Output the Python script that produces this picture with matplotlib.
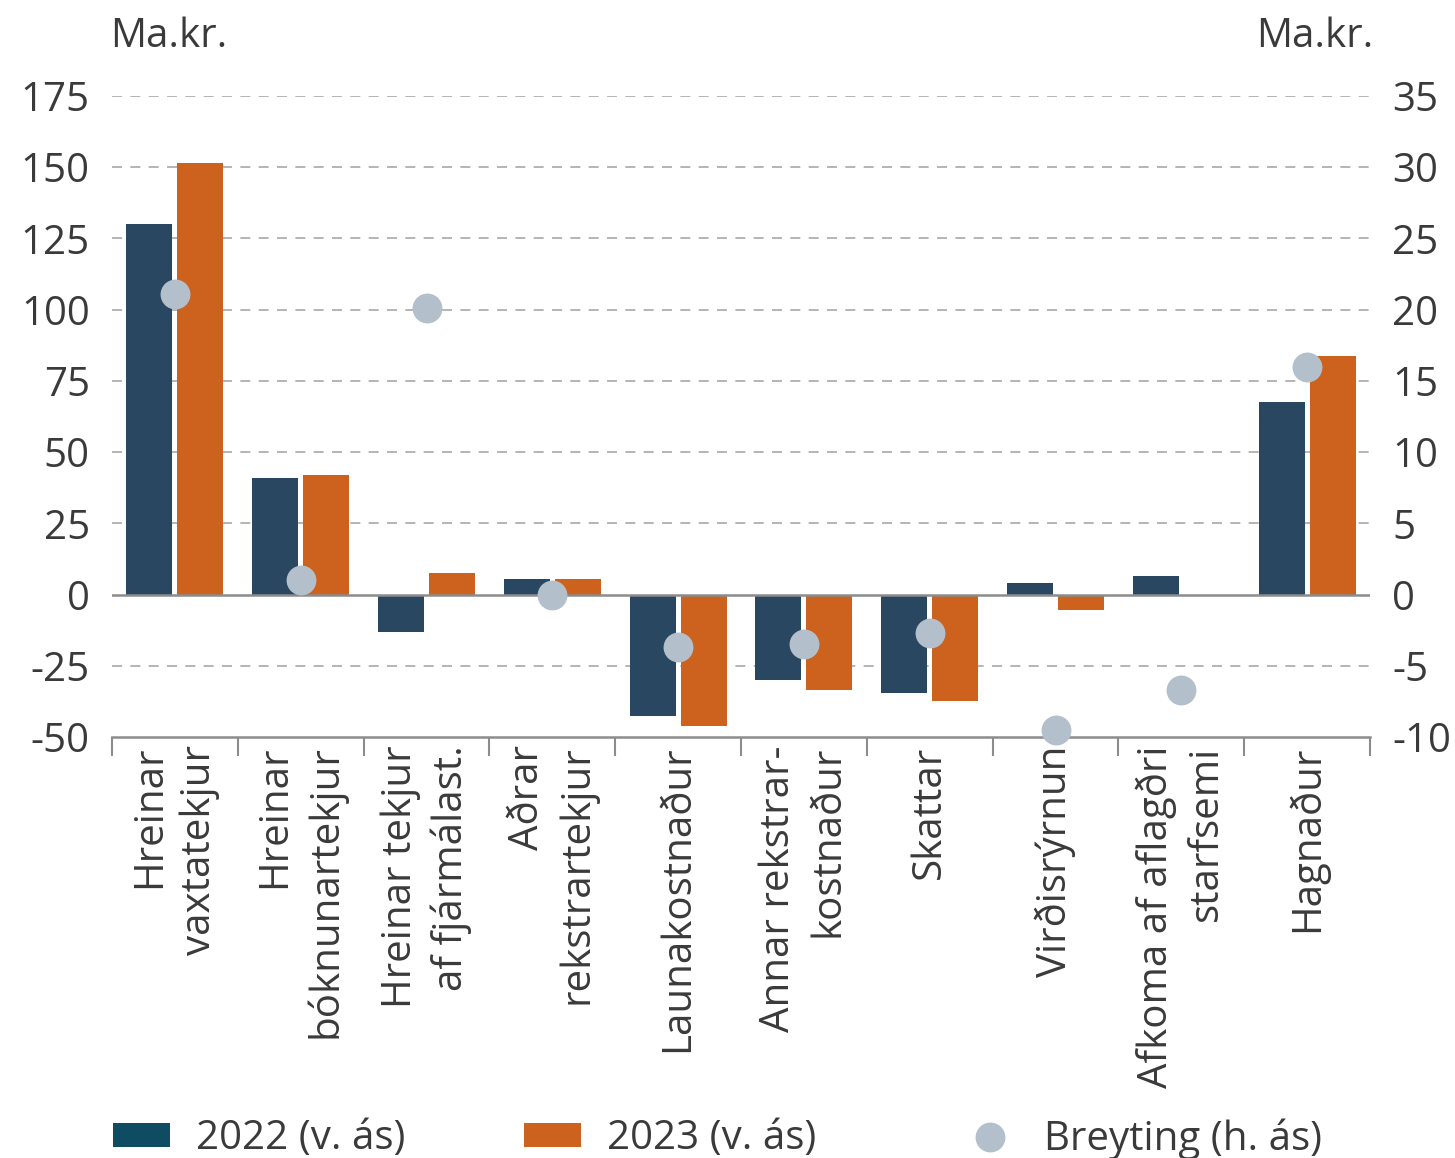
import matplotlib
matplotlib.use("Agg")
import matplotlib.pyplot as plt
from matplotlib.patches import Patch
from matplotlib.lines import Line2D
from matplotlib.ticker import FixedLocator
import numpy as np

plt.rcParams['font.family'] = ['Open Sans', 'DejaVu Sans']
plt.rcParams['axes.unicode_minus'] = False

categories = ["Hreinar\nvaxtatekjur", "Hreinar\nbóknunartekjur", "Hreinar tekjur\naf fjármálast.",
              "Aðrar\nrekstrartekjur", "Launakostnaður", "Annar rekstrar-\nkostnaður", "Skattar",
              "Virðisrýrnun", "Afkoma af aflagðri\nstarfsemi", "Hagnaður"]
v2022 = [130, 41, -13, 5.5, -42.5, -30, -34.5, 4, 6.5, 67.5]
v2023 = [151.5, 42, 7.5, 5.3, -46, -33.5, -37.3, -5.3, -0.3, 83.7]
breyting = [21.1, 1.0, 20.1, 0.0, -3.7, -3.5, -2.7, -9.5, -6.7, 16.0]
left_ticks = [-50, -25, 0, 25, 50, 75, 100, 125, 150, 175]
right_ticks = [-10, -5, 0, 5, 10, 15, 20, 25, 30, 35]
legend_labels = ["2022 (v. ás)", "2023 (v. ás)", "Breyting (h. ás)"]

C22 = "#2a4761"
C23 = "#cc621e"
C22_LEG = "#0f4b63"
CDOT = "#b4bfcc"
TXT = "#3a3a3a"
FS = 29

fig = plt.figure(figsize=(14.55, 11.58), dpi=100)
ax = fig.add_axes([112/1455, 1-737/1158, (1370-112)/1455, (737-96)/1158])
ax2 = ax.twinx()

x = np.arange(len(categories))
w = 0.366
off = 0.203
ax.bar(x - off, v2022, width=w, color=C22, zorder=3)
ax.bar(x + off, v2023, width=w, color=C23, zorder=3)

ax.set_xlim(-0.5, len(categories) - 0.5)
ax.set_ylim(-50, 175)
ax2.set_ylim(-10, 35)

ax2.plot(x, breyting, linestyle='none', marker='o', markersize=21.5,
         color=CDOT, markeredgewidth=0, zorder=5, clip_on=False)

ax.set_yticks(left_ticks)
ax2.set_yticks(right_ticks)
for t in left_ticks:
    if t == 0:
        ax.axhline(0, color="#8c8c8c", lw=1.8, zorder=4)
    elif t != -50:
        ax.axhline(t, color="#a8a8a8", lw=1.2, ls=(0, (6, 5)), zorder=1)

for a in (ax, ax2):
    for s in ['left', 'right', 'top']:
        a.spines[s].set_visible(False)
ax2.spines['bottom'].set_visible(False)
ax.spines['bottom'].set_color("#8c8c8c")
ax.spines['bottom'].set_linewidth(1.8)

ax.tick_params(axis='y', length=0, pad=16, labelsize=FS, labelcolor=TXT)
ax2.tick_params(axis='y', length=0, pad=16, labelsize=FS, labelcolor=TXT)

ax.set_xticks(x)
ax.set_xticklabels(categories, rotation=90, ha='center', va='top',
                   multialignment='right', fontsize=FS, color=TXT, linespacing=1.3)
ax.tick_params(axis='x', which='major', length=0, pad=6)
ax.xaxis.set_minor_locator(FixedLocator(np.arange(-0.5, len(categories), 1.0)))
ax.tick_params(axis='x', which='minor', length=14, width=1.5, color="#8c8c8c", direction='out')

ax2.set_zorder(ax.get_zorder() + 1)
ax2.patch.set_visible(False)

fig.text(110/1455, 1-37/1158, "Ma.kr.", ha='left', va='center', fontsize=FS, color=TXT)
fig.text(1373/1455, 1-37/1158, "Ma.kr.", ha='right', va='center', fontsize=FS, color=TXT)

handles = [Patch(facecolor=C22_LEG, edgecolor='none'),
           Patch(facecolor=C23, edgecolor='none'),
           Line2D([], [], linestyle='none', marker='o', markersize=21.5, color=CDOT, markeredgewidth=0)]
starts = [113, 524, 961]
for h, lab, sx in zip(handles, legend_labels, starts):
    fig.legend([h], [lab], loc='center left', bbox_to_anchor=(sx/1455, 1-1139/1158),
               frameon=False, fontsize=FS, labelcolor=TXT, handlelength=1.42,
               handleheight=0.55, handletextpad=0.65,
               borderpad=0, borderaxespad=0)

fig.savefig("out.png", dpi=100)
